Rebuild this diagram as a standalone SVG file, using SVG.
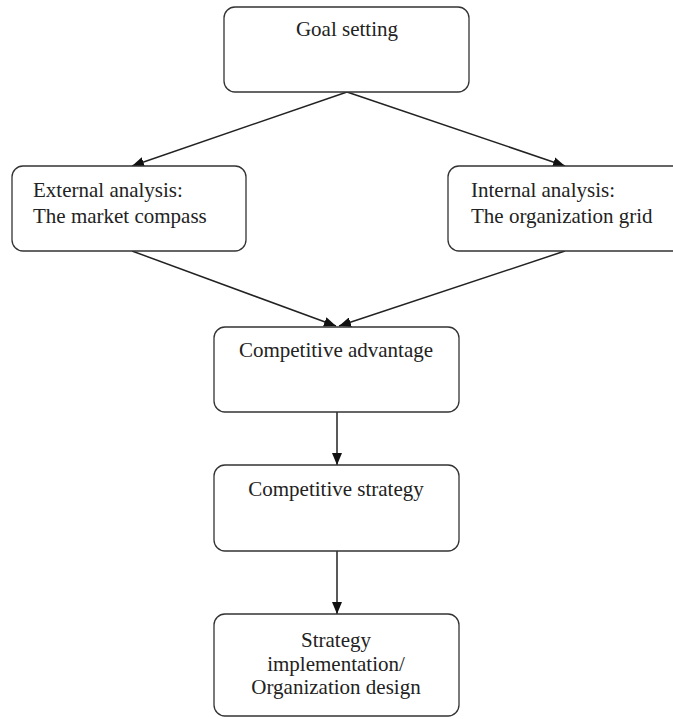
<svg xmlns="http://www.w3.org/2000/svg" width="673" height="719" viewBox="0 0 673 719">
<defs>
<style>
.box{fill:#fff;stroke:#333;stroke-width:1.3}
.t{font-family:"Liberation Serif","Times New Roman",serif;font-size:21px;fill:#222}
.c{text-anchor:middle}
.edge{stroke:#222;stroke-width:1.5;fill:none;marker-end:url(#ah)}
</style>
<marker id="ah" viewBox="0 0 12 10" refX="12" refY="5" markerWidth="12" markerHeight="10" markerUnits="userSpaceOnUse" orient="auto">
<path d="M0,0 L12,5 L0,10 Z" fill="#111"/>
</marker>
</defs>
<rect width="673" height="719" fill="#fff"/>
<g id="connectors">
<line class="edge" x1="347" y1="92" x2="132" y2="166"/>
<line class="edge" x1="347" y1="92" x2="565" y2="166"/>
<line class="edge" x1="132" y1="251" x2="336" y2="326"/>
<line class="edge" x1="565" y1="251" x2="339" y2="326"/>
<line class="edge" x1="337" y1="412" x2="337" y2="465"/>
<line class="edge" x1="337" y1="551" x2="337" y2="614"/>
</g>
<g id="goal">
<rect class="box" x="224" y="7" width="245" height="85" rx="11"/>
<text class="t c" x="347" y="36">Goal setting</text>
</g>
<g id="external">
<rect class="box" x="12" y="166" width="234" height="85" rx="11"/>
<text class="t" x="33" y="197">External analysis:</text>
<text class="t" x="33" y="223">The market compass</text>
</g>
<g id="internal">
<rect class="box" x="448" y="166" width="250" height="85" rx="11"/>
<text class="t" x="471" y="197">Internal analysis:</text>
<text class="t" x="471" y="223">The organization grid</text>
</g>
<g id="advantage">
<rect class="box" x="214" y="327" width="245" height="85" rx="11"/>
<text class="t c" x="336" y="357">Competitive advantage</text>
</g>
<g id="strategy">
<rect class="box" x="214" y="465" width="245" height="86" rx="11"/>
<text class="t c" x="336" y="496">Competitive strategy</text>
</g>
<g id="implementation">
<rect class="box" x="214" y="614" width="245" height="102" rx="11"/>
<text class="t c" x="336" y="647">Strategy</text>
<text class="t c" x="336" y="671">implementation/</text>
<text class="t c" x="336" y="694">Organization design</text>
</g>
</svg>
